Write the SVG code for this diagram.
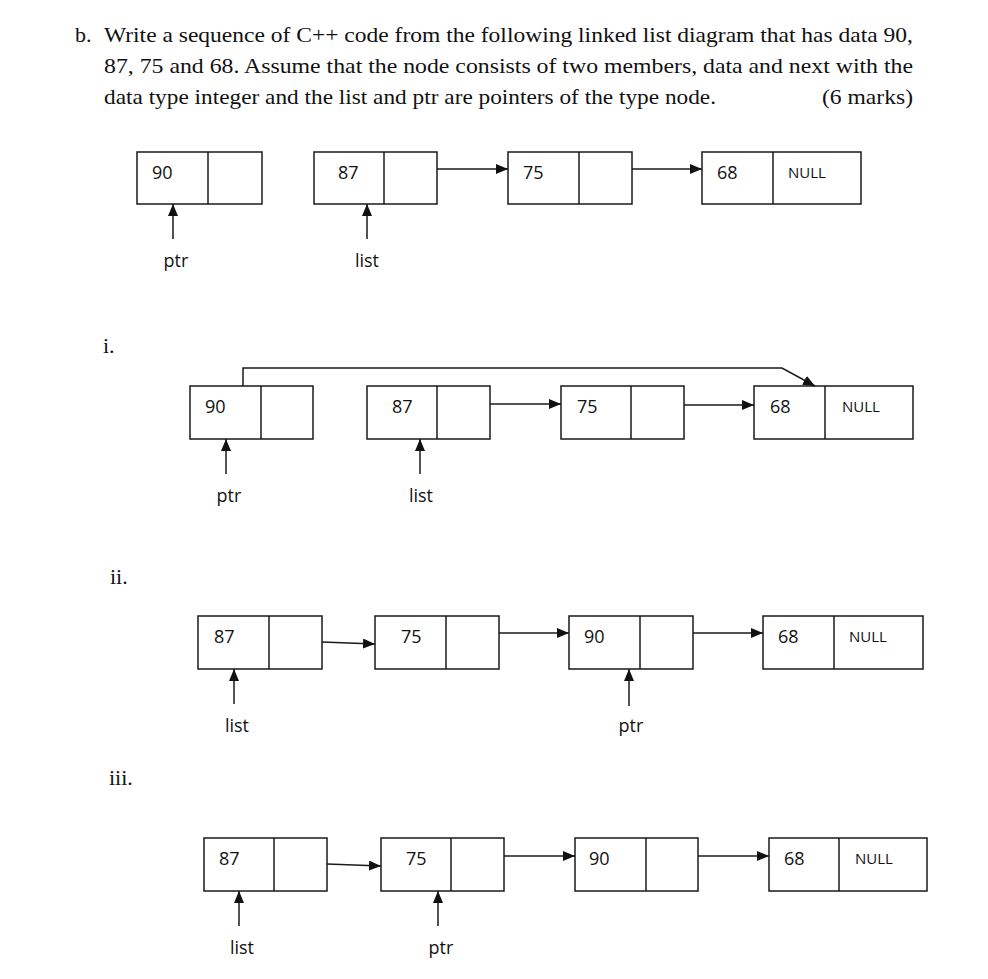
<svg xmlns="http://www.w3.org/2000/svg" width="988" height="979" viewBox="0 0 988 979">
<style>
.box{fill:#fff;stroke:#1a1a1a;stroke-width:1.5}
.div{stroke:#1a1a1a;stroke-width:1.5}
.con{fill:none;stroke:#1a1a1a;stroke-width:1.5}
.val{font-family:'Open Sans','Liberation Sans',sans-serif;font-size:18px;fill:#111}
.nul{font-family:'Open Sans','Liberation Sans',sans-serif;font-size:15px;fill:#111}
.lab{font-family:'Open Sans','Liberation Sans',sans-serif;font-size:18px;fill:#111;text-anchor:middle}
.q{font-family:'Liberation Serif',serif;font-size:22px;fill:#111}
</style>
<defs>
<marker id="ah" markerUnits="userSpaceOnUse" markerWidth="12" markerHeight="10" refX="12" refY="5" orient="auto">
<path d="M0,0 L12,5 L0,10 z" fill="#111"/>
</marker>
</defs>
<rect width="988" height="979" fill="#fff"/>
<g id="question">
<text class="q" x="75" y="42">b.</text>
<text class="q" x="104" y="42" textLength="809" lengthAdjust="spacingAndGlyphs">Write a sequence of C++ code from the following linked list diagram that has data 90,</text>
<text class="q" x="104" y="73" textLength="809" lengthAdjust="spacingAndGlyphs">87, 75 and 68. Assume that the node consists of two members, data and next with the</text>
<text class="q" x="104" y="104" textLength="612" lengthAdjust="spacingAndGlyphs">data type integer and the list and ptr are pointers of the type node.</text>
<text class="q" x="822" y="104" textLength="91" lengthAdjust="spacingAndGlyphs">(6 marks)</text>
<text class="q" x="103" y="353">i.</text>
<text class="q" x="110" y="584">ii.</text>
<text class="q" x="109" y="785">iii.</text>
</g>
<!-- Row 0 -->
<g id="r0n90"><rect class="box" x="137" y="152" width="125" height="52"/><line class="div" x1="208" y1="152" x2="208" y2="204"/><text class="val" x="152" y="179">90</text></g>
<g id="r0n87"><rect class="box" x="314" y="152" width="123" height="52"/><line class="div" x1="384" y1="152" x2="384" y2="204"/><text class="val" x="338" y="179">87</text></g>
<g id="r0n75"><rect class="box" x="508" y="152" width="124" height="52"/><line class="div" x1="579" y1="152" x2="579" y2="204"/><text class="val" x="523" y="179">75</text></g>
<g id="r0n68"><rect class="box" x="702" y="152" width="159" height="52"/><line class="div" x1="773" y1="152" x2="773" y2="204"/><text class="val" x="717" y="179">68</text><text class="nul" x="788" y="178">NULL</text></g>
<g id="r0labels"><text class="lab" x="176" y="267">ptr</text><text class="lab" x="367" y="267">list</text></g>
<!-- Row i -->
<g id="r1n90"><rect class="box" x="190" y="386" width="123" height="53"/><line class="div" x1="261" y1="386" x2="261" y2="439"/><text class="val" x="205" y="413">90</text></g>
<g id="r1n87"><rect class="box" x="367" y="386" width="123" height="53"/><line class="div" x1="437" y1="386" x2="437" y2="439"/><text class="val" x="392" y="413">87</text></g>
<g id="r1n75"><rect class="box" x="561" y="386" width="123" height="53"/><line class="div" x1="631" y1="386" x2="631" y2="439"/><text class="val" x="577" y="413">75</text></g>
<g id="r1n68"><rect class="box" x="754" y="386" width="159" height="53"/><line class="div" x1="825" y1="386" x2="825" y2="439"/><text class="val" x="770" y="413">68</text><text class="nul" x="842" y="412">NULL</text></g>
<g id="r1labels"><text class="lab" x="229" y="502">ptr</text><text class="lab" x="421" y="502">list</text></g>
<!-- Row ii -->
<g id="r2n87"><rect class="box" x="198" y="616" width="124" height="53"/><line class="div" x1="269" y1="616" x2="269" y2="669"/><text class="val" x="214" y="643">87</text></g>
<g id="r2n75"><rect class="box" x="375" y="616" width="124" height="53"/><line class="div" x1="446" y1="616" x2="446" y2="669"/><text class="val" x="401" y="643">75</text></g>
<g id="r2n90"><rect class="box" x="569" y="616" width="124" height="53"/><line class="div" x1="640" y1="616" x2="640" y2="669"/><text class="val" x="584" y="643">90</text></g>
<g id="r2n68"><rect class="box" x="763" y="616" width="160" height="53"/><line class="div" x1="834" y1="616" x2="834" y2="669"/><text class="val" x="778" y="643">68</text><text class="nul" x="849" y="642">NULL</text></g>
<g id="r2labels"><text class="lab" x="237" y="732">list</text><text class="lab" x="631" y="732">ptr</text></g>
<!-- Row iii -->
<g id="r3n87"><rect class="box" x="204" y="838" width="123" height="53"/><line class="div" x1="274" y1="838" x2="274" y2="891"/><text class="val" x="219" y="865">87</text></g>
<g id="r3n75"><rect class="box" x="381" y="838" width="123" height="53"/><line class="div" x1="451" y1="838" x2="451" y2="891"/><text class="val" x="406" y="865">75</text></g>
<g id="r3n90"><rect class="box" x="575" y="838" width="123" height="53"/><line class="div" x1="646" y1="838" x2="646" y2="891"/><text class="val" x="589" y="865">90</text></g>
<g id="r3n68"><rect class="box" x="769" y="838" width="158" height="53"/><line class="div" x1="839" y1="838" x2="839" y2="891"/><text class="val" x="784" y="865">68</text><text class="nul" x="855" y="864">NULL</text></g>
<g id="r3labels"><text class="lab" x="242" y="954">list</text><text class="lab" x="441" y="954">ptr</text></g>
<g id="connectors">
<line class="con" x1="437" y1="169" x2="508" y2="169" marker-end="url(#ah)"/>
<line class="con" x1="632" y1="169" x2="702" y2="169" marker-end="url(#ah)"/>
<line class="con" x1="173" y1="239" x2="173" y2="204" marker-end="url(#ah)"/>
<line class="con" x1="367" y1="239" x2="367" y2="204" marker-end="url(#ah)"/>
<polyline class="con" points="243,386 243,368 782,368 815,386" marker-end="url(#ah)"/>
<line class="con" x1="490" y1="404" x2="561" y2="404" marker-end="url(#ah)"/>
<line class="con" x1="684" y1="405" x2="754" y2="405" marker-end="url(#ah)"/>
<line class="con" x1="226" y1="474" x2="226" y2="439" marker-end="url(#ah)"/>
<line class="con" x1="420" y1="474" x2="420" y2="439" marker-end="url(#ah)"/>
<line class="con" x1="322" y1="642" x2="375" y2="644" marker-end="url(#ah)"/>
<line class="con" x1="499" y1="633" x2="569" y2="633" marker-end="url(#ah)"/>
<line class="con" x1="693" y1="633" x2="763" y2="633" marker-end="url(#ah)"/>
<line class="con" x1="234" y1="704" x2="234" y2="669" marker-end="url(#ah)"/>
<line class="con" x1="629" y1="706" x2="629" y2="669" marker-end="url(#ah)"/>
<line class="con" x1="327" y1="864" x2="381" y2="866" marker-end="url(#ah)"/>
<line class="con" x1="504" y1="856" x2="575" y2="856" marker-end="url(#ah)"/>
<line class="con" x1="698" y1="856" x2="769" y2="856" marker-end="url(#ah)"/>
<line class="con" x1="239" y1="926" x2="239" y2="891" marker-end="url(#ah)"/>
<line class="con" x1="438" y1="926" x2="438" y2="891" marker-end="url(#ah)"/>
</g>
</svg>
